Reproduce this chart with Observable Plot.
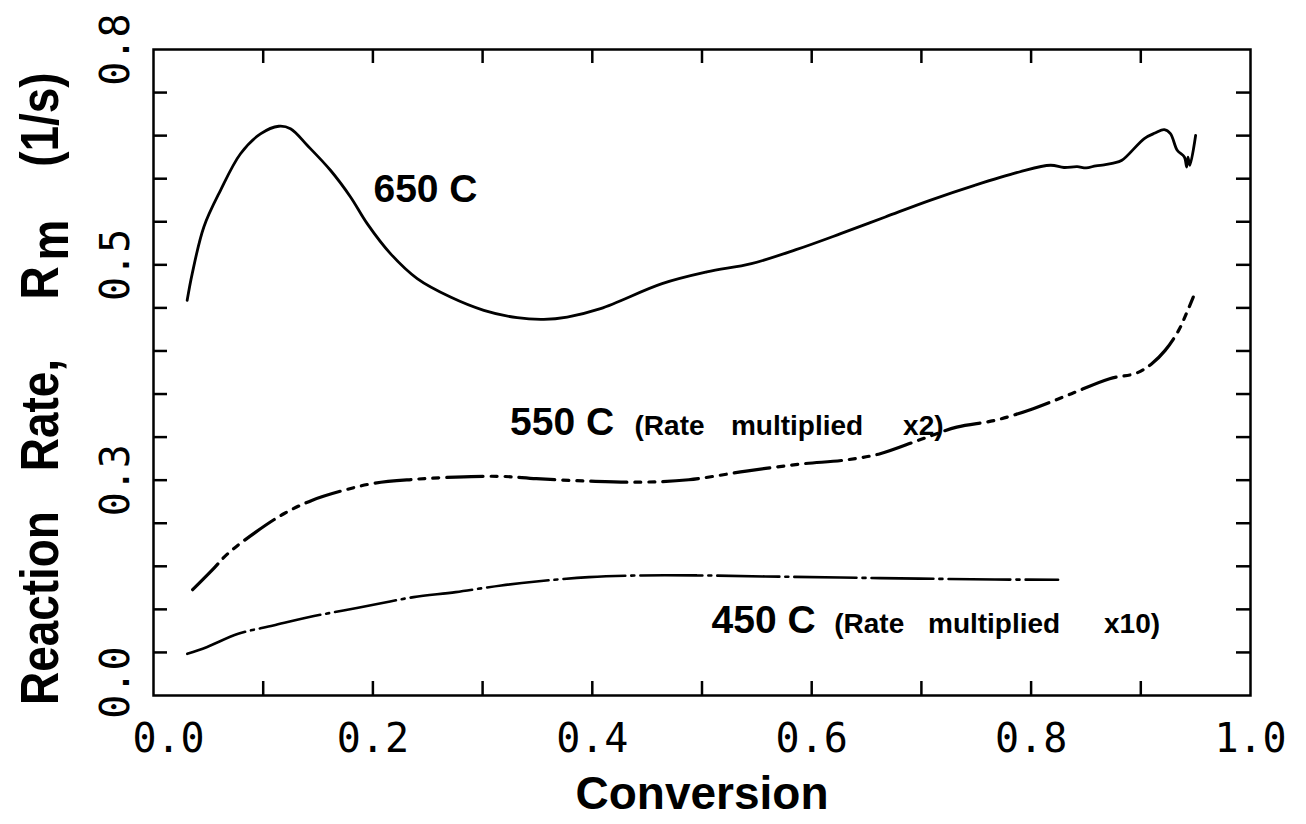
<!DOCTYPE html>
<html>
<head>
<meta charset="utf-8">
<script src="https://cdn.jsdelivr.net/npm/d3@7"></script>
<script src="https://cdn.jsdelivr.net/npm/@observablehq/plot@0.6"></script>
<style>
  body { margin: 0; background: #fff; }
  #chart svg { display: block; }
</style>
</head>
<body>
<div id="chart"></div>
<script>
// ---- axis ticks ----
const xTicks = [0.2, 0.4, 0.6, 0.8, 1.0];
const yTicks = [0.25, 0.5, 0.75];
const originTick = [0];
const xMinor = [0.1, 0.2, 0.3, 0.4, 0.5, 0.6, 0.7, 0.8, 0.9];
const yMinor = [0.05, 0.10, 0.15, 0.20, 0.25, 0.30, 0.35, 0.40, 0.45, 0.50, 0.55, 0.60, 0.65, 0.70];

// ---- 650 C (solid) ----
const conv650 = [0.0307, 0.0353, 0.0459, 0.0611, 0.0793, 0.0975, 0.1142, 0.1249, 0.1401, 0.1613, 0.1796, 0.1948, 0.2160, 0.2404, 0.2707, 0.3011, 0.3315, 0.3558, 0.3771, 0.4075, 0.4636, 0.5044, 0.5450, 0.5857, 0.6264, 0.6671, 0.7078, 0.7485, 0.7892, 0.8177, 0.8300, 0.8420, 0.8502, 0.8590, 0.8665, 0.8750, 0.8828, 0.9032, 0.9130, 0.9214, 0.9270, 0.9332, 0.9397, 0.9418, 0.9430, 0.9447, 0.9500];
const rate650 = [0.4588, 0.4898, 0.5440, 0.5865, 0.6290, 0.6520, 0.6609, 0.6580, 0.6388, 0.6098, 0.5788, 0.5478, 0.5130, 0.4840, 0.4626, 0.4472, 0.4386, 0.4367, 0.4394, 0.4491, 0.4781, 0.4917, 0.5014, 0.5176, 0.5362, 0.5556, 0.5749, 0.5923, 0.6078, 0.6156, 0.6130, 0.6140, 0.6125, 0.6150, 0.6160, 0.6180, 0.6214, 0.6466, 0.6530, 0.6570, 0.6524, 0.6330, 0.6252, 0.6136, 0.6250, 0.6156, 0.6504];

// ---- 550 C (rate x2, dash-dot-dot) ----
const conv550 = [0.0357, 0.0532, 0.0676, 0.0932, 0.1188, 0.1443, 0.1731, 0.2019, 0.2371, 0.2755, 0.3170, 0.3490, 0.3969, 0.4449, 0.4880, 0.5403, 0.5926, 0.6276, 0.6624, 0.6973, 0.7322, 0.7670, 0.8019, 0.8368, 0.8716, 0.8961, 0.9100, 0.9222, 0.9345, 0.9415, 0.9478];
const rate550 = [0.1228, 0.1452, 0.1645, 0.1897, 0.2110, 0.2265, 0.2381, 0.2466, 0.2509, 0.2536, 0.2544, 0.2517, 0.2489, 0.2477, 0.2505, 0.2605, 0.2691, 0.2729, 0.2807, 0.2962, 0.3116, 0.3194, 0.3330, 0.3504, 0.3678, 0.3743, 0.3852, 0.4007, 0.4239, 0.4433, 0.4626];

// ---- 450 C (rate x10, long dash-dot) ----
const conv450 = [0.0308, 0.0484, 0.0772, 0.1092, 0.1411, 0.1731, 0.2051, 0.2371, 0.2755, 0.3170, 0.3490, 0.3969, 0.4449, 0.4961, 0.5577, 0.6624, 0.7670, 0.8246];
const rate450 = [0.0484, 0.0561, 0.0716, 0.0813, 0.0909, 0.0987, 0.1065, 0.1142, 0.1200, 0.1278, 0.1324, 0.1374, 0.1394, 0.1394, 0.1382, 0.1363, 0.1347, 0.1344];

// ---- annotation labels (data coordinates of text start / baseline) ----
const bigLabels = ["650 C", "550 C", "450 C"];
const bigLabelX = [0.2005, 0.3250, 0.5087];
const bigLabelY = [0.5726, 0.3020, 0.0720];
const smallLabels = ["(Rate", "multiplied", "x2)", "(Rate", "multiplied", "x10)"];
const smallLabelX = [0.4385, 0.5264, 0.6833, 0.6205, 0.7060, 0.8665];
const smallLabelY = [0.3020, 0.3020, 0.3020, 0.0720, 0.0720, 0.0720];

const xLabel = "Conversion";
const yLabelWords = ["Reaction", "Rate,", "R", "m", "(1/s)"];

// ---- build tables ----
const toRows = (xs, ys) => xs.map((x, i) => ({x, y: ys[i]}));
const d650 = toRows(conv650, rate650);
const d550 = toRows(conv550, rate550);
const d450 = toRows(conv450, rate450);
const big = bigLabels.map((t, i) => ({text: t, x: bigLabelX[i], y: bigLabelY[i]}));
const small = smallLabels.map((t, i) => ({text: t, x: smallLabelX[i], y: smallLabelY[i]}));

const W = 1306, H = 824, mL = 153, mR = 56, mT = 49, mB = 129;
const innerW = W - mL - mR, innerH = H - mT - mB;
const tickLen = 14;
const sans = "'Liberation Sans', Arial, Helvetica, sans-serif";
const mono = "'DejaVu Sans Mono', monospace";
const axisFont = {fontSize: 40, fontFamily: mono, label: null, tickSize: 0};

const chart = Plot.plot({
  width: W, height: H,
  marginLeft: mL, marginRight: mR, marginTop: mT, marginBottom: mB,
  style: {background: "#fff", color: "#000", overflow: "visible"},
  x: {domain: [0, 1]},
  y: {domain: [0, 0.75]},
  marks: [
    Plot.axisX(xTicks, {...axisFont, tickFormat: ".1f", tickPadding: 28}),
    Plot.axisX(originTick, {...axisFont, tickFormat: ".1f", tickPadding: 28, dx: 15}),
    Plot.axisY(yTicks, {...axisFont, tickFormat: ".1f", tickPadding: 25, tickRotate: -90}),
    Plot.axisY(originTick, {...axisFont, tickFormat: ".1f", tickPadding: 25, tickRotate: -90, dy: -13}),
    // inward ticks on all four sides
    Plot.tickX(xMinor, {x: d => d, insetTop: innerH - tickLen, strokeWidth: 2.5}),
    Plot.tickX(xMinor, {x: d => d, insetBottom: innerH - tickLen, strokeWidth: 2.5}),
    Plot.tickY(yMinor, {y: d => d, insetRight: innerW - tickLen, strokeWidth: 2.5}),
    Plot.tickY(yMinor, {y: d => d, insetLeft: innerW - tickLen, strokeWidth: 2.5}),
    Plot.frame({stroke: "#000", strokeWidth: 2.5}),
    // curves
    Plot.line(d650, {x: "x", y: "y", stroke: "#000", strokeWidth: 2.8, curve: "catmull-rom"}),
    Plot.line(d550, {x: "x", y: "y", stroke: "#000", strokeWidth: 3.2, strokeDasharray: "36 8 6 8 6 8", curve: "catmull-rom"}),
    Plot.line(d450, {x: "x", y: "y", stroke: "#000", strokeWidth: 2.6, strokeDasharray: "62 6 3 6", curve: "catmull-rom"}),
    // annotations
    Plot.text(big, {x: "x", y: "y", text: "text", textAnchor: "start", lineAnchor: "bottom", fontSize: 39, fontWeight: "bold", fontFamily: sans}),
    Plot.text(small, {x: "x", y: "y", text: "text", textAnchor: "start", lineAnchor: "bottom", fontSize: 28, fontWeight: "bold", fontFamily: sans}),
    // x-axis title
    Plot.text([xLabel], {frameAnchor: "bottom", dy: 113, lineAnchor: "bottom", fontSize: 46, fontWeight: "bold", fontFamily: sans})
  ]
});

// y-axis title (condensed bold, with subscript m), drawn bottom-to-top
const svg = d3.select(chart);
const t = svg.append("text")
  .attr("transform", `translate(58,705) rotate(-90) scale(0.85,1)`)
  .attr("text-anchor", "start")
  .attr("font-family", sans)
  .attr("font-weight", "bold")
  .attr("font-size", 54)
  .attr("fill", "#000");
t.append("tspan").text(yLabelWords[0]);
t.append("tspan").attr("dx", 47).text(yLabelWords[1]);
t.append("tspan").attr("dx", 70).text(yLabelWords[2]);
t.append("tspan").attr("dx", 7).attr("dy", 10).text(yLabelWords[3]);
t.append("tspan").attr("dx", 62).attr("dy", -10).text(yLabelWords[4]);

document.getElementById("chart").appendChild(chart);
</script>
</body>
</html>
